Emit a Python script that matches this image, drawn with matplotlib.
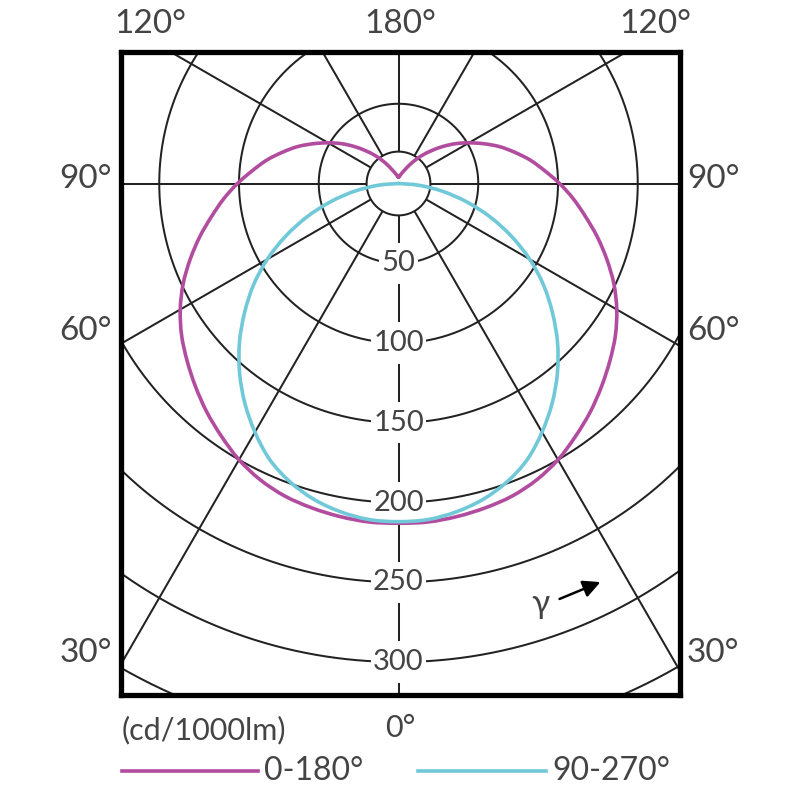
import numpy as np
import matplotlib
matplotlib.use("Agg")
import matplotlib.pyplot as plt
from matplotlib.lines import Line2D
from matplotlib.path import Path
from matplotlib.patches import PathPatch, FancyArrowPatch

# ---- data ----
gamma_c0 = [0, 5, 10, 15, 20, 25, 30, 35, 40, 45, 50, 55, 60, 65, 70, 75, 80, 85, 90,
            95, 100, 105, 110, 115, 120, 125, 130, 135, 140, 145, 150, 155, 160, 165, 170, 175, 180]
i_c0 = [213, 213, 212, 210.5, 208.5, 205, 200, 193.5, 187, 180, 173, 166, 158, 149, 139, 129, 119, 110, 101,
        92, 84, 75.5, 67.5, 59, 51, 43.5, 36, 29, 23, 17.5, 13, 9.5, 7.5, 6, 5, 4.3, 4]

gamma_c90 = [0, 5, 10, 15, 20, 25, 30, 35, 40, 45, 50, 55, 60, 65, 70, 75, 80, 85, 90]
i_c90 = [212, 211.5, 209, 205, 199, 191, 180, 168, 155, 141, 126, 111, 95, 78, 61, 44, 28, 13, 0]

ring_values = [20, 50, 100, 150, 200, 250, 300, 350]
ring_labels = [50, 100, 150, 200, 250, 300]
spoke_angles = [30, 60, 90, 120, 150, 180, -30, -60, -90, -120, -150]

series_names = ["0-180°", "90-270°"]
series_colors = ["#b24c9f", "#70c8d8"]

W = 800.0
FONT = "Lato"
TXT = "#444444"

fig = plt.figure(figsize=(8, 8), dpi=100)
ax = fig.add_axes([121 / W, 1 - 695 / W, (680 - 121) / W, (695 - 52) / W])
scale = 1.595  # px per cd
cx, cy = 398.5, 183.5
ax.set_xlim((121 - cx) / scale, (680 - cx) / scale)
ax.set_ylim(-(695 - cy) / scale, (cy - 52) / scale)
ax.set_xticks([])
ax.set_yticks([])
for s in ax.spines.values():
    s.set_linewidth(3.8)
    s.set_color("black")
    s.set_zorder(10)

grid_kw = dict(color="#222222", lw=1.45, zorder=1, solid_capstyle="butt")

# rings
th = np.linspace(0, 2 * np.pi, 1441)
for r in ring_values:
    ax.plot(r * np.sin(th), r * np.cos(th), **grid_kw)

# spokes
r0 = ring_values[0]
for a in spoke_angles:
    g = np.deg2rad(a)
    ax.plot([r0 * np.sin(g), 800 * np.sin(g)], [-r0 * np.cos(g), -800 * np.cos(g)], **grid_kw)

# 0 deg spoke, interrupted by the ring labels
gap = 13
stops = [r0] + ring_labels + [800]
for k in range(len(stops) - 1):
    a0 = stops[k] + (gap if k > 0 else 0)
    a1 = stops[k + 1] - (gap if k + 1 < len(stops) - 1 else 0)
    ax.plot([0, 0], [-a0, -a1], **grid_kw)

for r in ring_labels:
    ax.text(0, -r, str(r), ha="center", va="center", fontsize=21, family=FONT, color=TXT,
            zorder=3, bbox=dict(boxstyle="square,pad=0.08", fc="white", ec="none"))


def smooth_path(xs, ys):
    """Catmull-Rom through the points, drawn as cubic Bezier segments."""
    P = np.column_stack([xs, ys])
    n = len(P)
    verts = [P[0]]
    codes = [Path.MOVETO]
    for k in range(n - 1):
        p0 = P[k - 1] if k > 0 else P[k]
        p1 = P[k]
        p2 = P[k + 1]
        p3 = P[k + 2] if k + 2 < n else P[k + 1]
        c1 = p1 + (p2 - p0) / 6.0
        c2 = p2 - (p3 - p1) / 6.0
        verts += [c1, c2, p2]
        codes += [Path.CURVE4] * 3
    return Path(verts, codes)


def draw_curve(gam, val, color):
    g = np.deg2rad(np.array(gam, dtype=float))
    v = np.array(val, dtype=float)
    xr, yr = v * np.sin(g), -v * np.cos(g)
    xs = np.concatenate([-xr[::-1], xr[1:]])
    ys = np.concatenate([yr[::-1], yr[1:]])
    ax.add_patch(PathPatch(smooth_path(xs, ys), fc="none", ec=color, lw=2.6,
                           zorder=5, capstyle="round", joinstyle="round"))


draw_curve(gamma_c0, i_c0, series_colors[0])
draw_curve(gamma_c90, i_c90, series_colors[1])


def ftext(x, y, s, size=24, ha="center", va="center"):
    fig.text(x / W, 1 - y / W, s, ha=ha, va=va, fontsize=size, family=FONT, color=TXT)


# angle labels
ftext(150, 24, "120°")
ftext(400, 24, "180°")
ftext(655, 24, "120°")
for lab, yy in [("90°", 179), ("60°", 331), ("30°", 653)]:
    ftext(112, yy, lab, ha="right")
    ftext(687, yy, lab, ha="left")

ftext(122, 730, "(cd/1000lm)", size=22, ha="left")
ftext(400, 728, "0°", size=22)

# gamma arrow
ftext(540, 604, "γ", size=24)
fig.add_artist(FancyArrowPatch(
    (557 / W, 1 - 600 / W), (603 / W, 1 - 581 / W), transform=fig.transFigure,
    arrowstyle="-|>", mutation_scale=26, color="black", lw=1.8))

# legend
ly = 1 - 771 / W
fig.add_artist(Line2D([122 / W, 258 / W], [ly, ly], color=series_colors[0], lw=2.6, transform=fig.transFigure))
ftext(264, 771, series_names[0], size=23, ha="left")
fig.add_artist(Line2D([418 / W, 546 / W], [ly, ly], color=series_colors[1], lw=2.6, transform=fig.transFigure))
ftext(552, 771, series_names[1], size=23, ha="left")

fig.savefig("out.png", dpi=100, facecolor="white")
